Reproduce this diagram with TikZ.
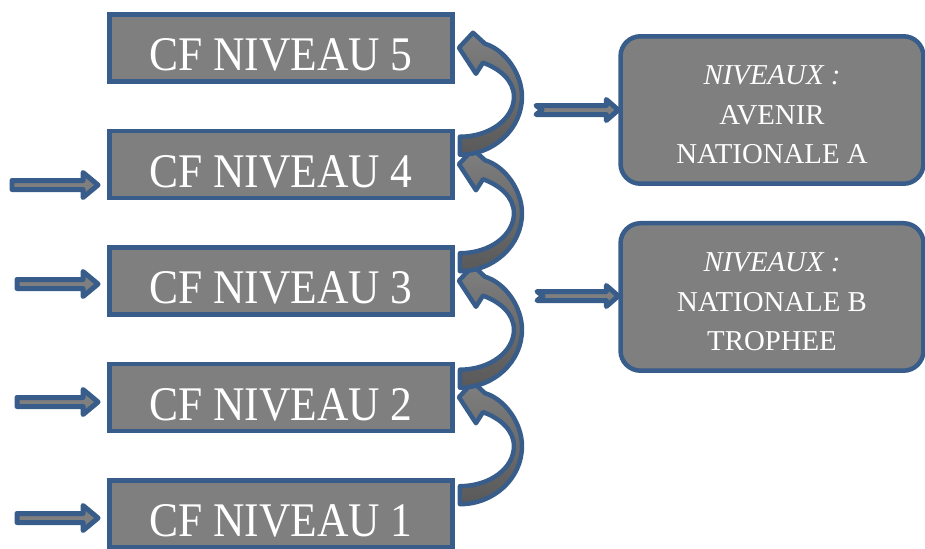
\documentclass[tikz,border=0pt]{standalone}
\usepackage{fontspec}
\setmainfont{Liberation Serif}
\newfontfamily\serree[FakeStretch=0.9]{Liberation Serif}
\usepackage{tikz}
\usetikzlibrary{positioning,calc}
\definecolor{bordbleu}{HTML}{385D8A}
\definecolor{fondgris}{HTML}{7F7F7F}

\begin{document}
\begin{tikzpicture}[
			x = 0.02cm, y = -0.02cm,
			node distance = 0.9cm,
			niveau/.style = {draw=bordbleu, fill=fondgris, line width=0.09cm,
				minimum width=6.87cm, minimum height=1.34cm, inner sep=0pt,
				text=white, font=\serree\fontsize{27.5}{30}\selectfont,
				text height=0.92cm, text depth=0pt},
			bloc/.style = {draw=bordbleu, fill=fondgris, line width=0.09cm,
				rounded corners=0.4cm, minimum width=6.06cm, minimum height=2.95cm,
				text=white, align=center, font=\fontsize{16.4}{22.5}\selectfont},
			fleche/.style = {draw=bordbleu, fill=fondgris, line width=0.1cm, line join=round},
			courbe/.style = {draw=bordbleu, line width=0.09cm, line join=round,
				top color=fondgris, bottom color=fondgris!70!black}
			]

			\def\titre{\rule{0pt}{0.58cm}\textit{NIVEAUX :}}

			\path[use as bounding box, clip] (0,0) rectangle (925,548);

			% les cinq niveaux
			\node[niveau] (n5) at (281,48) {CF NIVEAU 5};
			\node[niveau, below=of n5] (n4) {CF NIVEAU 4};
			\node[niveau, below=of n4] (n3) {CF NIVEAU 3};
			\node[niveau, below=of n3] (n2) {CF NIVEAU 2};
			\node[niveau, below=of n2] (n1) {CF NIVEAU 1};

			\node[bloc] (na) at (772,110) {\titre\\AVENIR\\NATIONALE A};
			\node[bloc, below=0.7cm of na] (nb) {\titre\\NATIONALE B\\TROPHEE};

			% entrees a gauche
			\foreach \i/\x/\y in {4/12/185, 3/17/284, 2/17/402, 1/17/518} {
				\coordinate (e\i) at (\x,\y);
				\coordinate (p\i) at ($(e\i -| n\i.west)+(-9,0)$);
				\path[fleche] ($(e\i)+(0,-4.5)$) -- ($(p\i)+(-15,-4.5)$) -- ($(p\i)+(-15,-12.5)$)
					-- (p\i) -- ($(p\i)+(-15,12.5)$) -- ($(p\i)+(-15,4.5)$) -- ($(e\i)+(0,4.5)$) -- cycle;
			}

			% montees
			\foreach \lo in {n1,n2,n3,n4} {
				\path[courbe, shift={(\lo.north east)}]
					(5,26) .. controls (39,26) and (67,0) .. (67,-32)
					.. controls (67,-55) and (50,-79) .. (30,-85)
					-- (18,-96) -- (4,-81) -- (21,-55) -- (28,-66)
					.. controls (45,-60) and (59,-48) .. (59,-32)
					.. controls (59,-10) and (35,8) .. (5,8) -- cycle;
			}

			% vers les blocs de droite
			\coordinate (sa) at (536,110);
			\coordinate (sb) at (537,296);
			\foreach \s/\b in {sa/na, sb/nb} {
				\coordinate (t\s) at (\s -| \b.west);
				\path[fleche] ($(\s)+(0,-4.5)$) -- ($(t\s)+(-12,-4.5)$) -- ($(t\s)+(-12,-10.5)$)
					-- (t\s) -- ($(t\s)+(-12,10.5)$) -- ($(t\s)+(-12,4.5)$) -- ($(\s)+(0,4.5)$)
					-- ($(\s)+(6,0)$) -- cycle;
			}

		\end{tikzpicture}
\end{document}
